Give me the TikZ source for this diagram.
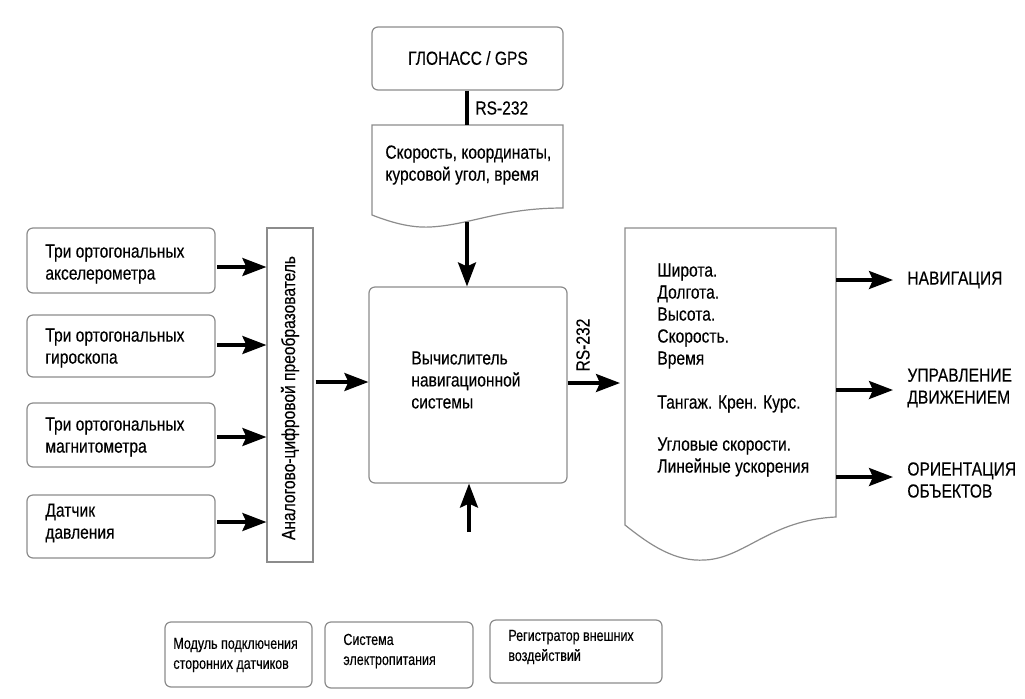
\documentclass[tikz,border=0pt]{standalone}
\usepackage{fontspec}
\setmainfont[FakeStretch=0.82,FakeBold=0.25]{Liberation Sans}
\newfontfamily\narrowfont[FakeStretch=0.78,FakeBold=0.25]{Liberation Sans}
\usetikzlibrary{arrows.meta,positioning}
\begin{document}
\begin{tikzpicture}[x=0.5pt,y=-0.5pt,
  every node/.style={font=\fontsize{9.5}{11}\selectfont},
  box/.style={draw=black!45,line width=0.6pt,rounded corners=3pt,fill=white,inner sep=0pt},
  sqbox/.style={draw=black!45,line width=0.6pt,fill=white,inner sep=0pt},
  txt/.style={align=left,anchor=west,inner sep=0pt},
  btxt/.style={align=left,anchor=west,inner sep=0pt,font=\narrowfont\fontsize{8}{10}\selectfont},
  arr/.style={line width=1.6pt,-{Stealth[length=12pt,width=9pt,inset=2pt]}},
  wire/.style={line width=1.6pt}]
\useasboundingbox (0,0) rectangle (1025,698);
% top: GLONASS
\node[box,minimum width=95.5pt,minimum height=31.5pt] (gl) at (467.5,58.5) {};
\node (glt) at (468,58) {ГЛОНАСС / GPS};
% document 1
\coordinate (d1nw) at (372,125);
\coordinate (d1ne) at (563,125);
\coordinate (d1sw) at (372,215);
\coordinate (d1se) at (563,208);
\coordinate (d1out) at (467,222);
\draw[black!45,line width=0.6pt,fill=white] (d1nw) -- (d1ne) -- (d1se)
  .. controls (500,208) and (470,225) .. (430,227)
  .. controls (410,228) and (390,222) .. (d1sw) -- cycle;
\node[txt] (d1t) at (385,165) {Скорость, координаты,\\курсовой угол, время};
\draw[wire] (gl.south -| d1out) -- (d1nw -| d1out);
\node[anchor=west,inner sep=0pt] (rs1) at (475,108) {RS-232};
% computer
\node[box,minimum width=99pt,minimum height=98pt] (comp) at (468,385) {};
\node[txt] (compt) at (411,380) {Вычислитель\\навигационной\\системы};
\draw[arr] (d1out) -- (comp.north -| d1out);
\coordinate (botin) at (469,532);
\draw[arr] (botin) -- (comp.south -| botin);
% output document
\coordinate (onw) at (625,228);
\coordinate (one) at (836,228);
\coordinate (osw) at (625,525);
\coordinate (ose) at (836,517);
\draw[black!45,line width=0.6pt,fill=white] (onw) -- (one) -- (ose)
  .. controls (770,520) and (745,558) .. (705,560)
  .. controls (675,562) and (650,545) .. (osw) -- cycle;
\node[txt] (ot) at (657,370) {Широта.\\Долгота.\\Высота.\\Скорость.\\Время\\[11pt]Тангаж. Крен. Курс.\\[10pt]Угловые скорости.\\Линейные ускорения};
\coordinate (cin) at (620,383);
\draw[arr] (comp.east |- cin) -- (cin);
\node[rotate=90,inner sep=0pt] (rs2) at (583,345) {RS-232};
% outputs
\node[txt] (o1) at (907,280) {НАВИГАЦИЯ};
\node[txt] (o2) at (907,388) {УПРАВЛЕНИЕ\\ДВИЖЕНИЕМ};
\node[txt] (o3) at (907,480) {ОРИЕНТАЦИЯ\\ОБЪЕКТОВ};
\draw[arr] (one |- o1.west) -- (893,280);
\draw[arr] (836,390) -- (893,390);
\draw[arr] (836,477) -- (893,477);
% left sensors
\node[box,minimum width=94pt,minimum height=32.5pt] (s1) at (121,260.5) {};
\node[txt] (s1t) at (45,264) {Три ортогональных\\акселерометра};
\node[box,minimum width=94pt,minimum height=31pt] (s2) at (121,346) {};
\node[txt] (s2t) at (45,348) {Три ортогональных\\гироскопа};
\node[box,minimum width=94pt,minimum height=32pt] (s3) at (121,435) {};
\node[txt] (s3t) at (45,437) {Три ортогональных\\магнитометра};
\node[box,minimum width=94pt,minimum height=31.5pt] (s4) at (121,526.5) {};
\node[txt] (s4t) at (45,523) {Датчик\\давления};
% ADC
\node[sqbox,minimum width=23pt,minimum height=167pt] (adc) at (290,395) {};
\node[rotate=90,inner sep=0pt] (adct) at (290,398) {Аналогово-цифровой преобразователь};
\draw[arr] (217,267) -- (adc.west |- 0,267);
\draw[arr] (217,345) -- (adc.west |- 0,345);
\draw[arr] (217,437) -- (adc.west |- 0,437);
\draw[arr] (217,522) -- (adc.west |- 0,522);
\draw[arr] (adc.east |- comp.west) ++(2,-3) -- (comp.west |- 0,382);
% bottom boxes
\node[box,minimum width=73.5pt,minimum height=32.5pt] (b1) at (238.5,654.5) {};
\node[btxt] (b1t) at (173,655) {Модуль подключения\\сторонних датчиков};
\node[box,minimum width=74pt,minimum height=33pt] (b2) at (399,655) {};
\node[btxt] (b2t) at (343,651) {Система\\электропитания};
\node[box,minimum width=86pt,minimum height=31.5pt] (b3) at (576,651.5) {};
\node[btxt] (b3t) at (508,647) {Регистратор внешних\\воздействий};
\end{tikzpicture}
\end{document}
